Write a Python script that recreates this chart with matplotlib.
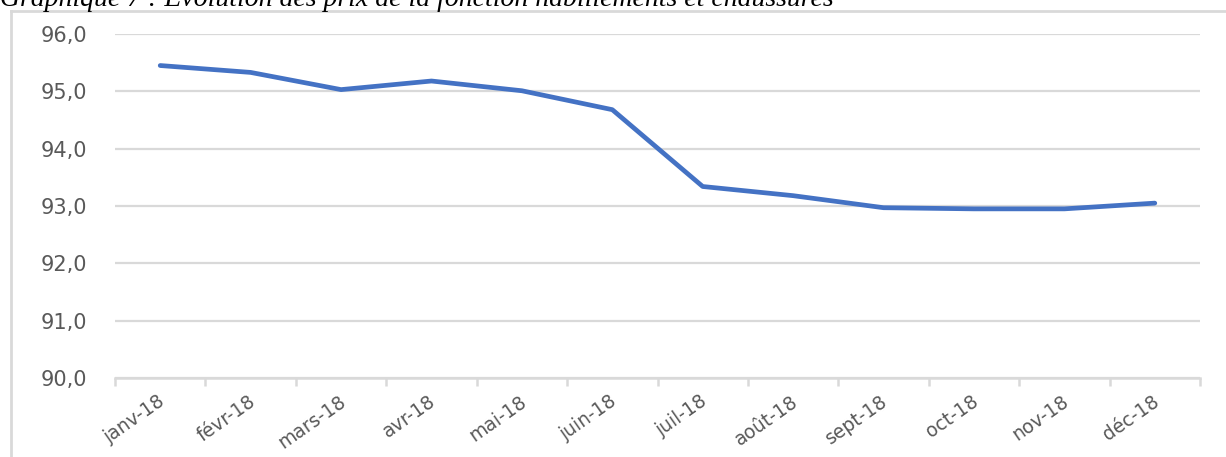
import matplotlib
matplotlib.use("Agg")
import matplotlib.pyplot as plt
import matplotlib.transforms as mtransforms
from matplotlib.lines import Line2D
import numpy as np

# data
months = ['janv-18', 'févr-18', 'mars-18', 'avr-18', 'mai-18', 'juin-18',
          'juil-18', 'août-18', 'sept-18', 'oct-18', 'nov-18', 'déc-18']
prix = [95.45, 95.33, 95.03, 95.18, 95.01, 94.68,
        93.34, 93.18, 92.97, 92.95, 92.95, 93.05]
yticks = [90, 91, 92, 93, 94, 95, 96]
title = "Graphique 7 : Evolution des prix de la fonction habillements et chaussures"

grid_col = '#d9d9d9'
text_col = '#595959'

fig = plt.figure(figsize=(12.26, 4.57), dpi=100)
ax = fig.add_axes([0.0938, 0.1729, 0.8850, 0.7527])

x = np.arange(len(months))
ax.plot(x, prix, color='#4472C4', lw=3.4, solid_capstyle='round',
        solid_joinstyle='round', zorder=3)

ax.set_xlim(-0.5, len(months) - 0.5)
ax.set_ylim(90, 96)
ax.set_yticks(yticks)
ax.set_yticklabels([f"{v:.1f}".replace('.', ',') for v in yticks])
ax.yaxis.grid(True, color=grid_col, lw=1.6)
ax.set_axisbelow(True)

for s in ['top', 'right', 'left']:
    ax.spines[s].set_visible(False)
ax.spines['bottom'].set_color(grid_col)
ax.spines['bottom'].set_linewidth(1.8)

ax.tick_params(axis='y', length=0, pad=20, labelsize=15, labelcolor=text_col)

# category labels at centres, ticks at boundaries
ax.set_xticks(x)
ax.set_xticklabels(months, rotation=35, ha='right', fontsize=13.5, color=text_col)
ax.tick_params(axis='x', which='major', length=0, pad=10)
ax.set_xticks(np.arange(len(months) + 1) - 0.5, minor=True)
ax.tick_params(axis='x', which='minor', length=6, width=1.8, color=grid_col)
offset = mtransforms.ScaledTranslation(8 / 100, 0, fig.dpi_scale_trans)
for lab in ax.get_xticklabels():
    lab.set_transform(lab.get_transform() + offset)

# outer frame of the chart box (top and left only visible)
fig.add_artist(Line2D([11 / 1226, 1], [1 - 11 / 457] * 2, transform=fig.transFigure,
                      color=grid_col, lw=2))
fig.add_artist(Line2D([11 / 1226] * 2, [0, 1 - 11 / 457], transform=fig.transFigure,
                      color=grid_col, lw=2))

# caption, cut off at the top like the source
fig.text(0.0, 1 - 6 / 457, title, family='Liberation Serif', style='italic',
         fontsize=20, color='black', ha='left', va='baseline')

fig.savefig('out.png', dpi=100)
